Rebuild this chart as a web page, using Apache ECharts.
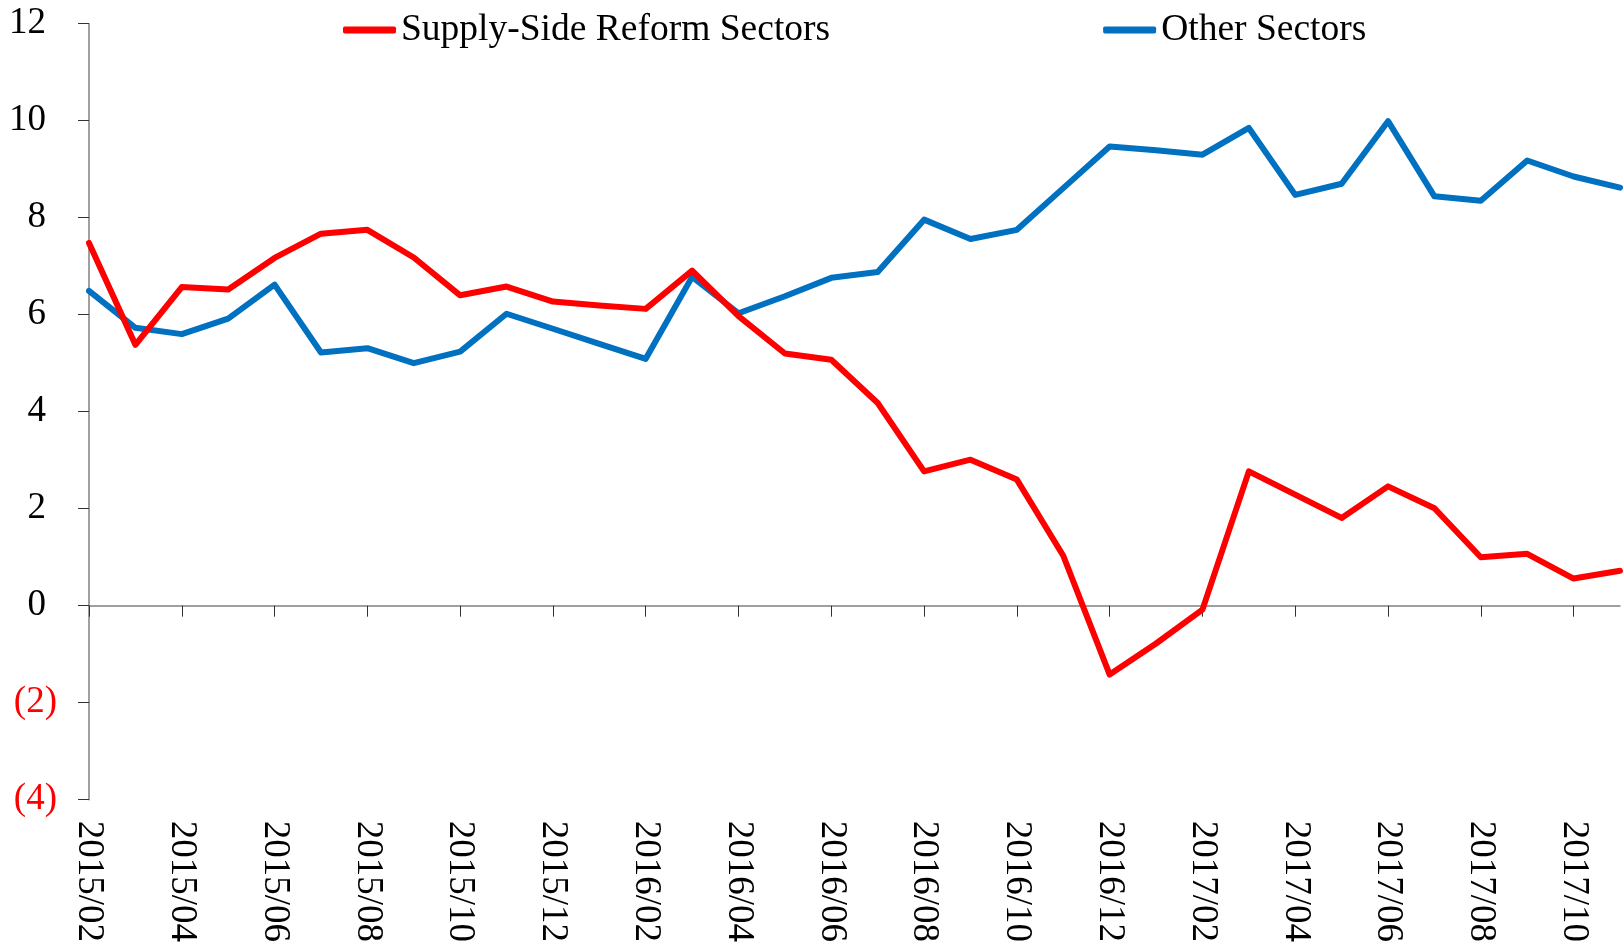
<!DOCTYPE html>
<html>
<head>
<meta charset="utf-8">
<script src="https://cdn.jsdelivr.net/npm/echarts@6/dist/echarts.min.js"></script>
<style>
  html, body { margin: 0; padding: 0; background: #fff; }
  #chart { width: 1623px; height: 945px; }
</style>
</head>
<body>
<div id="chart"></div>
<script>
// months on the x axis
const months = [
  "2015/02", "2015/03", "2015/04", "2015/05", "2015/06", "2015/07", "2015/08", "2015/09",
  "2015/10", "2015/11", "2015/12", "2016/01", "2016/02", "2016/03", "2016/04", "2016/05",
  "2016/06", "2016/07", "2016/08", "2016/09", "2016/10", "2016/11", "2016/12", "2017/01",
  "2017/02", "2017/03", "2017/04", "2017/05", "2017/06", "2017/07", "2017/08", "2017/09",
  "2017/10", "2017/11"
];

// supply-side reform sectors
const reformSectors = [
  7.48, 5.38, 6.57, 6.52, 7.17, 7.67, 7.75, 7.18,
  6.40, 6.58, 6.27, 6.19, 6.12, 6.91, 5.97, 5.20,
  5.07, 4.18, 2.77, 3.01, 2.60, 1.03, -1.42, -0.78,
  -0.08, 2.77, 2.29, 1.81, 2.46, 2.01, 1.00, 1.07,
  0.56, 0.72
];

// other sectors
const otherSectors = [
  6.49, 5.73, 5.60, 5.92, 6.62, 5.22, 5.31, 5.00,
  5.24, 6.02, 5.71, 5.40, 5.09, 6.78, 6.03, 6.38,
  6.76, 6.88, 7.96, 7.56, 7.75, 8.61, 9.47, 9.39,
  9.30, 9.85, 8.47, 8.70, 9.99, 8.44, 8.35, 9.18,
  8.85, 8.62
];

const seriesNames = ["Supply-Side Reform Sectors", "Other Sectors"];

const FONT = "Liberation Serif";
const RED = "#FF0000";
const BLUE = "#0070C0";
const AXIS_GRAY = "#808080";

const chart = echarts.init(document.getElementById("chart"));

const option = {
  animation: false,
  backgroundColor: "#fff",
  textStyle: { fontFamily: FONT },
  legend: {
    data: seriesNames,
    left: 338,
    top: 6,
    itemWidth: 53,
    itemHeight: 7,
    itemGap: 273,
    icon: "roundRect",
    textStyle: { fontFamily: FONT, fontSize: 37.5, color: "#000" },
  },
  grid: {
    left: 89,
    right: 3,
    top: 23.7,
    bottom: 145.3,
    containLabel: false,
    outerBoundsMode: "none",
  },
  xAxis: [
    {
      // axis line through zero, with ticks
      type: "category",
      data: months,
      boundaryGap: false,
      axisLine: { onZero: true, lineStyle: { color: AXIS_GRAY, width: 1.5 } },
      axisTick: { show: true, interval: 1, length: 11, lineStyle: { color: "#333", width: 1 } },
      axisLabel: { show: false },
      splitLine: { show: false },
    },
    {
      // labels at the bottom of the plot
      type: "category",
      data: months,
      boundaryGap: false,
      position: "bottom",
      axisLine: { show: false, onZero: false },
      axisTick: { show: false },
      axisLabel: {
        interval: 1,
        rotate: -90,
        margin: 21,
        fontFamily: FONT,
        fontSize: 37,
        color: "#000",
      },
      splitLine: { show: false },
    },
  ],
  yAxis: {
    type: "value",
    min: -4,
    max: 12,
    interval: 2,
    axisLine: { show: true, lineStyle: { color: AXIS_GRAY, width: 1.5 } },
    axisTick: { show: true, length: 11, lineStyle: { color: "#333", width: 1 } },
    splitLine: { show: false },
    axisLabel: {
      margin: 32,
      fontFamily: FONT,
      fontSize: 37,
      // accounting style: negatives in brackets, positives padded for the ")"
      formatter: (v) => (v < 0 ? "{neg|(" + Math.abs(v) + ")}" : "{pos|" + v + "}"),
      rich: {
        pos: { fontFamily: FONT, fontSize: 37, color: "#000", padding: [0, 11, 0, 0] },
        neg: { fontFamily: FONT, fontSize: 37, color: RED },
      },
    },
  },
  series: [
    {
      name: seriesNames[1],
      type: "line",
      data: otherSectors,
      xAxisIndex: 0,
      symbol: "none",
      color: BLUE,
      lineStyle: { width: 6, color: BLUE, join: "round", cap: "round" },
    },
    {
      name: seriesNames[0],
      type: "line",
      data: reformSectors,
      xAxisIndex: 0,
      symbol: "none",
      color: RED,
      lineStyle: { width: 6, color: RED, join: "round", cap: "round" },
    },
  ],
};

chart.setOption(option);
</script>
</body>
</html>
